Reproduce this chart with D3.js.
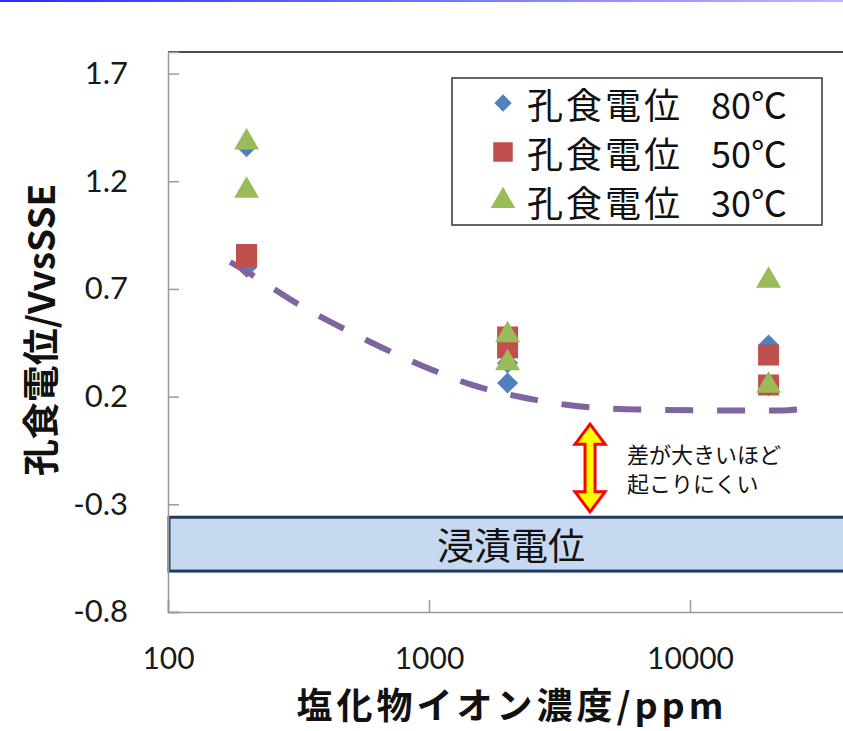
<!DOCTYPE html>
<html>
<head>
<meta charset="utf-8">
<script src="https://cdn.jsdelivr.net/npm/d3@7"></script>
<style>
  html, body { margin: 0; padding: 0; background: #fff; }
  svg { display: block; }
</style>
</head>
<body>
<script>
// Pitting potential vs chloride concentration at three temperatures
const concentrations = [200, 200, 2000, 2000, 20000, 20000];
const pit80 = [1.36, 0.80, 0.356, 0.263, 0.44, 0.25];
const pit50 = [0.86, 0.85, 0.477, 0.426, 0.393, 0.254];
const pit30 = [1.39, 1.166, 0.495, 0.365, 0.748, 0.261];
const seriesLabel = "孔食電位";
const seriesTemps = ["80℃", "50℃", "30℃"];

// Dashed lower-bound trend
const trendConc = [173, 201, 320, 545, 1009, 1422, 2248, 3413, 6430, 13996, 22490, 25700];
const trendVal = [0.825, 0.779, 0.625, 0.477, 0.328, 0.259, 0.198, 0.161, 0.14, 0.136, 0.136, 0.14];

// Immersion potential range
const immersionRange = [-0.61, -0.36];

const xTicks = [100, 1000, 10000];
const yTicks = [-0.8, -0.3, 0.2, 0.7, 1.2, 1.7];

const W = 843, H = 731;
const svg = d3.select("body").append("svg").attr("width", W).attr("height", H);

const defs = svg.append("defs");
const grad = defs.append("linearGradient").attr("id", "topRule");
grad.append("stop").attr("offset", "0%").attr("stop-color", "#2a2aff");
grad.append("stop").attr("offset", "100%").attr("stop-color", "#b8b8ff");
svg.append("rect").attr("x", 0).attr("y", 0).attr("width", W).attr("height", 2).attr("fill", "url(#topRule)");

const plotLeft = 168, plotTop = 52, plotBottom = 612;
const x = d3.scaleLog().domain([100, 100000]).range([plotLeft, plotLeft + 3 * 261]);
const y = d3.scaleLinear().domain([-0.8, 1.8]).range([plotBottom, plotTop]);

const numFont = "Lato, 'Noto Sans CJK JP', sans-serif";
const jpFont = "'Noto Sans CJK JP', sans-serif";

// Plot frame
svg.append("line").attr("x1", plotLeft).attr("x2", W).attr("y1", plotTop).attr("y2", plotTop)
  .attr("stroke", "#111").attr("stroke-width", 1.5);

// Immersion potential band
const bandG = svg.append("g");
bandG.append("rect")
  .attr("x", plotLeft + 1).attr("y", y(immersionRange[1]))
  .attr("width", W - plotLeft + 10).attr("height", y(immersionRange[0]) - y(immersionRange[1]))
  .attr("fill", "#c6d9f1").attr("stroke", "#1f3a60").attr("stroke-width", 3);
bandG.append("text")
  .attr("x", 511).attr("y", (y(immersionRange[0]) + y(immersionRange[1])) / 2)
  .attr("text-anchor", "middle").attr("dominant-baseline", "central")
  .attr("font-family", jpFont).attr("font-size", 37).attr("fill", "#111")
  .text("浸漬電位");

// Axes
const fmtY = v => d3.format(".1f")(v).replace("\u2212", "-");
const yAxis = d3.axisLeft(y).tickValues(yTicks).tickSize(-11).tickPadding(40).tickFormat(fmtY);
const yg = svg.append("g").attr("transform", `translate(${plotLeft},0)`).call(yAxis);
yg.select(".domain").attr("stroke", "#9a9a9a").attr("stroke-width", 1.5);
yg.selectAll(".tick line").attr("stroke", "#9a9a9a").attr("stroke-width", 1.5);
yg.selectAll(".tick text").attr("font-family", numFont).attr("font-size", 31).attr("fill", "#1a1a1a");

const xAxis = d3.axisBottom(x).tickValues(xTicks).tickSize(-12).tickFormat(d3.format("d"));
const xg = svg.append("g").attr("transform", `translate(0,${plotBottom})`).call(xAxis);
xg.select(".domain").attr("stroke", "#9a9a9a").attr("stroke-width", 1.5);
xg.selectAll(".tick line").attr("stroke", "#9a9a9a").attr("stroke-width", 1.5);
xg.selectAll(".tick text").attr("y", 57).attr("dy", null)
  .attr("font-family", numFont).attr("font-size", 30).attr("fill", "#1a1a1a");

// Markers
const sym = {
  diamond: d3.symbol().type(d3.symbolSquare).size(220),
  square: d3.symbol().type(d3.symbolSquare).size(440),
  triangle: d3.symbol().type(d3.symbolTriangle).size(270)
};
function drawSeries(values, kind, color) {
  svg.append("g").selectAll("path").data(values).join("path")
    .attr("d", sym[kind]())
    .attr("transform", (d, i) => `translate(${x(concentrations[i])},${y(d)})` + (kind === "diamond" ? " rotate(45)" : kind === "triangle" ? " translate(0,2)" : ""))
    .attr("fill", color);
}

drawSeries(pit80, "diamond", "#4f81bd");

// Trend line: dashes fitted so the path starts and ends on a dash
const trend = d3.line().x((d, i) => x(trendConc[i])).y(d => y(d)).curve(d3.curveMonotoneX);
const trendPath = svg.append("path").attr("d", trend(trendVal))
  .attr("fill", "none").attr("stroke", "#8064a2").attr("stroke-width", 6);
const dashLen = 28;
const pathLen = trendPath.node().getTotalLength();
const nPeriods = Math.max(1, Math.round((pathLen - dashLen) / 50));
const period = (pathLen - dashLen) / nPeriods;
trendPath.attr("stroke-dasharray", `${dashLen},${period - dashLen}`);

drawSeries(pit50, "square", "#c0504d");
drawSeries(pit30, "triangle", "#9bbb59");

// Double-headed arrow between trend and immersion band
const arrowConc = 4140, arrowTop = 0.072, arrowBottom = -0.335;
const ax = x(arrowConc), ay0 = y(arrowTop), ay1 = y(arrowBottom);
const hw = 15, sw = 5, hh = 20;
const arrowPts = [
  [ax, ay0], [ax + hw, ay0 + hh], [ax + sw, ay0 + hh], [ax + sw, ay1 - hh], [ax + hw, ay1 - hh],
  [ax, ay1], [ax - hw, ay1 - hh], [ax - sw, ay1 - hh], [ax - sw, ay0 + hh], [ax - hw, ay0 + hh]
];
svg.append("polygon").attr("points", arrowPts.map(p => p.join(",")).join(" "))
  .attr("fill", "#ffff00").attr("stroke", "#ff0000").attr("stroke-width", 3).attr("stroke-linejoin", "miter");

const note = svg.append("text").attr("font-family", jpFont).attr("font-size", 22).attr("fill", "#111");
note.append("tspan").attr("x", 627).attr("y", 463).text("差が大きいほど");
note.append("tspan").attr("x", 627).attr("y", 492).text("起こりにくい");

// Legend
const lg = svg.append("g");
lg.append("rect").attr("x", 452).attr("y", 78).attr("width", 370).attr("height", 147)
  .attr("fill", "#fff").attr("stroke", "#333").attr("stroke-width", 1.5);
const legendKinds = [["diamond", "#4f81bd"], ["square", "#c0504d"], ["triangle", "#9bbb59"]];
const legendSym = {
  diamond: d3.symbol().type(d3.symbolSquare).size(150),
  square: d3.symbol().type(d3.symbolSquare).size(380),
  triangle: d3.symbol().type(d3.symbolTriangle).size(260)
};
seriesTemps.forEach((temp, i) => {
  const cy = 103 + i * 49;
  lg.append("path").attr("d", legendSym[legendKinds[i][0]]())
    .attr("transform", `translate(503,${cy})` + (legendKinds[i][0] === "diamond" ? " rotate(45)" : ""))
    .attr("fill", legendKinds[i][1]);
  const t = lg.append("text").attr("y", cy).attr("dominant-baseline", "central")
    .attr("font-family", jpFont).attr("font-size", 36).attr("fill", "#111");
  t.append("tspan").attr("x", 527).attr("letter-spacing", 3).text(seriesLabel);
  t.append("tspan").attr("x", 711).text(temp);
});

// Axis titles
svg.append("text").attr("transform", "translate(39,330) rotate(-90)")
  .attr("text-anchor", "middle").attr("dominant-baseline", "central")
  .attr("font-family", jpFont).attr("font-weight", "bold").attr("font-size", 37).attr("fill", "#111")
  .text("孔食電位/VvsSSE");
svg.append("text").attr("x", 512).attr("y", 703)
  .attr("text-anchor", "middle").attr("dominant-baseline", "central")
  .attr("font-family", jpFont).attr("font-weight", "bold").attr("font-size", 36)
  .attr("letter-spacing", 4).attr("fill", "#111")
  .text("塩化物イオン濃度/ppm");
</script>
</body>
</html>
